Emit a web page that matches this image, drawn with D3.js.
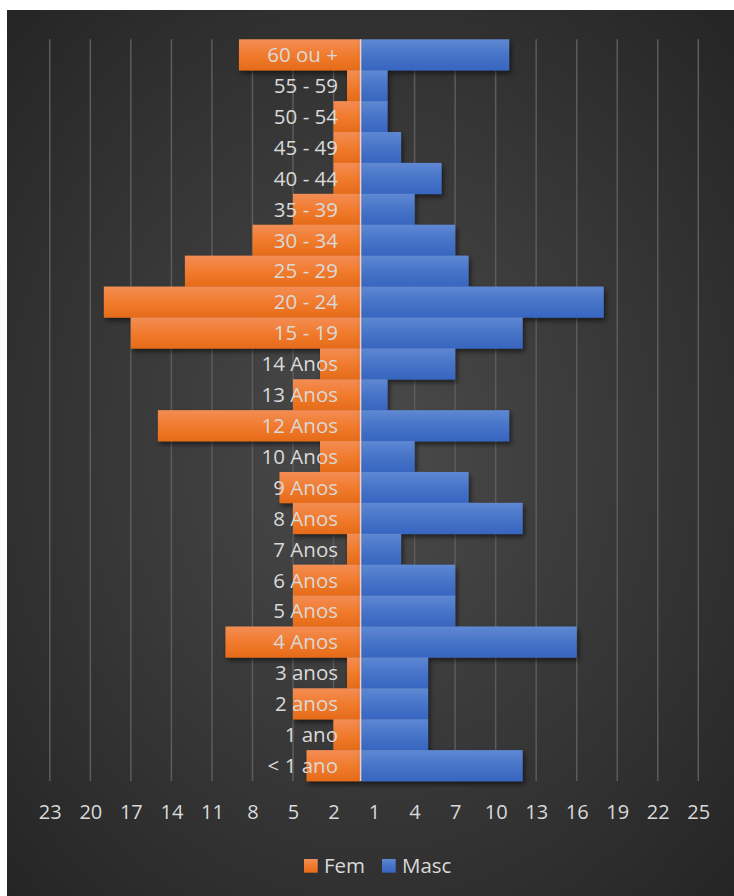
<!DOCTYPE html>
<html>
<head>
<meta charset="utf-8">
<script src="https://cdn.jsdelivr.net/npm/d3@7"></script>
<style>
  html, body { margin: 0; padding: 0; background: #ffffff; }
  svg { display: block; }
  text { font-family: "Open Sans", sans-serif; }
</style>
</head>
<body>
<div id="chart"></div>
<script>
// Categories, top to bottom
const categories = ["60 ou +", "55 - 59", "50 - 54", "45 - 49", "40 - 44", "35 - 39", "30 - 34",
  "25 - 29", "20 - 24", "15 - 19", "14 Anos", "13 Anos", "12 Anos", "10 Anos", "9 Anos",
  "8 Anos", "7 Anos", "6 Anos", "5 Anos", "4 Anos", "3 anos", "2 anos", "1 ano", "< 1 ano"];
const femValues  = [9, 1, 2, 2, 2, 5, 8, 13, 19, 17, 3, 5, 15, 3, 6, 5, 1, 5, 5, 10, 1, 5, 2, 4];
const mascValues = [11, 2, 2, 3, 6, 4, 7, 8, 18, 12, 7, 2, 11, 4, 8, 12, 3, 7, 7, 16, 5, 5, 5, 12];
const seriesNames = ["Fem", "Masc"];
const tickValues = [-23, -20, -17, -14, -11, -8, -5, -2, 1, 4, 7, 10, 13, 16, 19, 22, 25];

const W = 734, H = 896;
const svg = d3.select("#chart").append("svg").attr("width", W).attr("height", H);
const defs = svg.append("defs");

const bg = defs.append("radialGradient").attr("id", "bg")
  .attr("cx", "50%").attr("cy", "50%").attr("r", "72%");
bg.append("stop").attr("offset", "0%").attr("stop-color", "#4b4b4b");
bg.append("stop").attr("offset", "100%").attr("stop-color", "#242424");

const gO = defs.append("linearGradient").attr("id", "gO").attr("x1", 0).attr("y1", 0).attr("x2", 0).attr("y2", 1);
gO.append("stop").attr("offset", "0%").attr("stop-color", "#F38D55");
gO.append("stop").attr("offset", "50%").attr("stop-color", "#F17B2E");
gO.append("stop").attr("offset", "100%").attr("stop-color", "#E56B18");
const gB = defs.append("linearGradient").attr("id", "gB").attr("x1", 0).attr("y1", 0).attr("x2", 0).attr("y2", 1);
gB.append("stop").attr("offset", "0%").attr("stop-color", "#5F88D3");
gB.append("stop").attr("offset", "50%").attr("stop-color", "#4774C8");
gB.append("stop").attr("offset", "100%").attr("stop-color", "#3765C0");

const sh = defs.append("filter").attr("id", "shadow").attr("x", "-10%").attr("y", "-10%").attr("width", "130%").attr("height", "130%");
sh.append("feDropShadow").attr("dx", 2).attr("dy", 3).attr("stdDeviation", 2.5)
  .attr("flood-color", "#000").attr("flood-opacity", 0.55);

svg.append("rect").attr("x", 7).attr("y", 10).attr("width", W - 7).attr("height", H - 10).attr("fill", "url(#bg)");

const x = d3.scaleLinear().domain([-23, 25]).range([49.8, 698.3]);
const y = d3.scaleBand().domain(categories).range([39.3, 781]).padding(0);

// gridlines
svg.append("g").selectAll("line").data(tickValues).join("line")
  .attr("x1", d => x(d)).attr("x2", d => x(d))
  .attr("y1", y.range()[0]).attr("y2", y.range()[1])
  .attr("stroke", "#5c5c5c").attr("stroke-width", 1.5);

const data = categories.map((c, i) => ({ cat: c, fem: femValues[i], masc: mascValues[i] }));

// Fem bars (negative side)
svg.append("g").attr("filter", "url(#shadow)").selectAll("rect").data(data).join("rect")
  .attr("x", d => x(-d.fem)).attr("width", d => x(0) - x(-d.fem))
  .attr("y", d => y(d.cat)).attr("height", y.bandwidth() + 0.3)
  .attr("fill", "url(#gO)");

// Masc bars
svg.append("g").attr("filter", "url(#shadow)").selectAll("rect").data(data).join("rect")
  .attr("x", x(0)).attr("width", d => x(d.masc) - x(0))
  .attr("y", d => y(d.cat)).attr("height", y.bandwidth() + 0.3)
  .attr("fill", "url(#gB)");

// category axis line
svg.append("line").attr("x1", x(0)).attr("x2", x(0))
  .attr("y1", y.range()[0]).attr("y2", y.range()[1])
  .attr("stroke", "#f0d2c0").attr("stroke-width", 1.5);

// category labels
svg.append("g").selectAll("text").data(categories).join("text")
  .attr("x", 338).attr("y", d => y(d) + y.bandwidth() / 2)
  .attr("dy", "0.36em").attr("text-anchor", "end")
  .attr("font-size", 20.5).attr("fill", "#d9d9d9").text(d => d);

// value axis
const xAxis = d3.axisBottom(x).tickValues(tickValues).tickFormat(d => Math.abs(d)).tickSize(0).tickPadding(0);
const ax = svg.append("g").attr("transform", "translate(0,805)").call(xAxis);
ax.select(".domain").remove();
ax.selectAll("text").attr("font-size", 20).attr("fill", "#d9d9d9")
  .attr("font-family", "'Open Sans', sans-serif").attr("dy", "0.36em").attr("y", 7);

// legend
const legend = svg.append("g");
const legendItems = [{ name: seriesNames[0], fill: "url(#gO)", x: 304 }, { name: seriesNames[1], fill: "url(#gB)", x: 382 }];
legendItems.forEach(it => {
  legend.append("rect").attr("x", it.x).attr("y", 859).attr("width", 13.7).attr("height", 13.7).attr("fill", it.fill);
  legend.append("text").attr("x", it.x + 20).attr("y", 866).attr("dy", "0.36em")
    .attr("font-size", 20.5).attr("fill", "#d9d9d9").text(it.name);
});
</script>
</body>
</html>
